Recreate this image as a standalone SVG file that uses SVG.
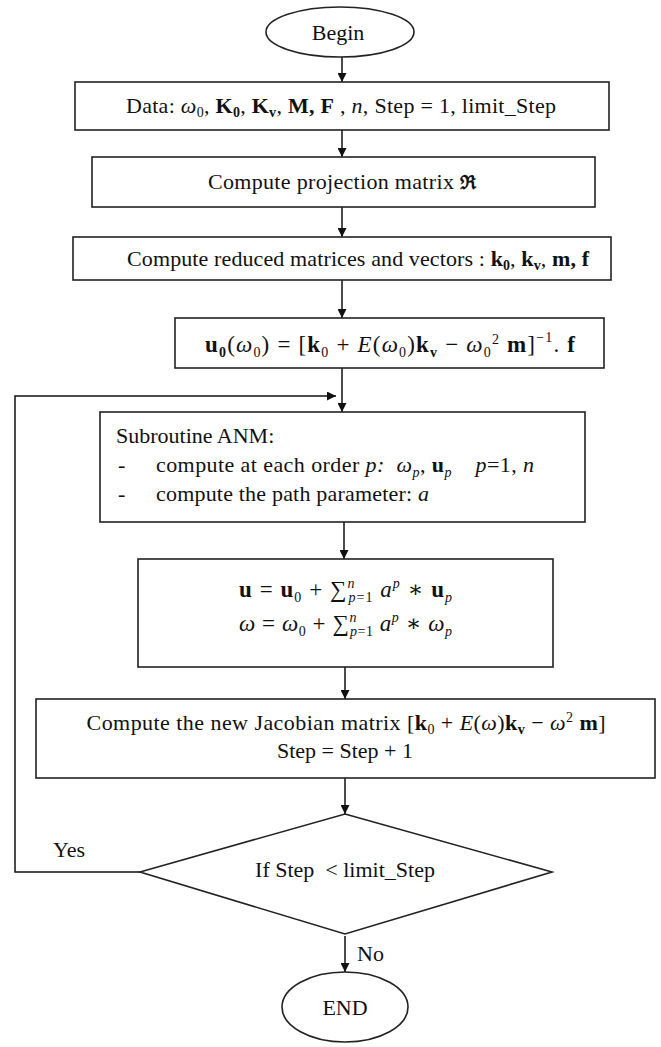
<svg xmlns="http://www.w3.org/2000/svg" width="661" height="1047" viewBox="0 0 661 1047">
  <defs>
    <marker id="arrow" viewBox="0 0 10 10" refX="10" refY="5" markerWidth="9" markerHeight="9" markerUnits="userSpaceOnUse" orient="auto">
      <path d="M0,0 L10,5 L0,10 z" fill="#111"/>
    </marker>
    <style>
      .box { fill: #fff; stroke: #222; stroke-width: 1.6; }
      .wire { fill: none; stroke: #111; stroke-width: 1.5; }
      .t { font-family: "Liberation Serif", "Times New Roman", serif; font-size: 22px; fill: #111; }
      .m { font-family: "Liberation Serif", "DejaVu Serif", serif; font-size: 23px; fill: #111; }
      .b { font-weight: bold; }
      .i { font-style: italic; }
      .s { font-size: 14px; }
    </style>
  </defs>

  <!-- connectors -->
  <g id="connectors">
    <line class="wire" x1="342" y1="57" x2="342" y2="82" marker-end="url(#arrow)"/>
    <line class="wire" x1="342" y1="130" x2="342" y2="157" marker-end="url(#arrow)"/>
    <line class="wire" x1="342" y1="207" x2="342" y2="237" marker-end="url(#arrow)"/>
    <line class="wire" x1="342" y1="280" x2="342" y2="318" marker-end="url(#arrow)"/>
    <line class="wire" x1="342" y1="368" x2="342" y2="412" marker-end="url(#arrow)"/>
    <polyline class="wire" points="140,872 15,872 15,396 336,396" marker-end="url(#arrow)"/>
    <line class="wire" x1="344" y1="522" x2="344" y2="559" marker-end="url(#arrow)"/>
    <line class="wire" x1="345" y1="667" x2="345" y2="699" marker-end="url(#arrow)"/>
    <line class="wire" x1="345" y1="778" x2="345" y2="814" marker-end="url(#arrow)"/>
    <line class="wire" x1="345" y1="936" x2="345" y2="972" marker-end="url(#arrow)"/>
    <text class="t" x="53" y="857">Yes</text>
    <text class="t" x="357" y="961">No</text>
  </g>

  <!-- start -->
  <g id="begin">
    <ellipse class="box" cx="340" cy="32" rx="74" ry="25"/>
    <text class="t" x="338" y="40" text-anchor="middle">Begin</text>
  </g>

  <!-- input data -->
  <g id="data">
    <rect class="box" x="75" y="82" width="534" height="48"/>
    <text class="t" x="341" y="113" text-anchor="middle" textLength="430" lengthAdjust="spacing">Data: <tspan class="i">ω</tspan><tspan class="s" dy="4">0</tspan><tspan dy="-4">, </tspan><tspan class="b">K</tspan><tspan class="b s" dy="4">0</tspan><tspan dy="-4">,  </tspan><tspan class="b">K</tspan><tspan class="b s" dy="4">v</tspan><tspan dy="-4">,  </tspan><tspan class="b">M, F</tspan> , <tspan class="i">n</tspan>, Step = 1, limit_Step</text>
  </g>

  <!-- projection -->
  <g id="projection">
    <rect class="box" x="92" y="157" width="503" height="50"/>
    <text class="t" x="342" y="189" text-anchor="middle" textLength="268" lengthAdjust="spacing">Compute projection matrix <tspan class="b" font-family="DejaVu Serif, serif" font-size="19">ℜ</tspan></text>
  </g>

  <!-- reduced model -->
  <g id="reduced">
    <rect class="box" x="73" y="237" width="538" height="43"/>
    <text class="t" x="358" y="266" text-anchor="middle" textLength="462" lengthAdjust="spacing">Compute reduced matrices and vectors : <tspan class="b">k</tspan><tspan class="b s" dy="4">0</tspan><tspan dy="-4">,  </tspan><tspan class="b">k</tspan><tspan class="b s" dy="4">v</tspan><tspan dy="-4">,  </tspan><tspan class="b">m, f</tspan></text>
  </g>

  <!-- initial solution -->
  <g id="initial">
    <rect class="box" x="175" y="318" width="429" height="50"/>
    <text class="m" x="390" y="352" text-anchor="middle" textLength="370" lengthAdjust="spacing"><tspan class="b">u</tspan><tspan class="b s" dy="5">0</tspan><tspan dy="-5">(</tspan><tspan class="i">ω</tspan><tspan class="s" dy="5">0</tspan><tspan dy="-5">) = [</tspan><tspan class="b">k</tspan><tspan class="s" dy="5">0</tspan><tspan dy="-5"> + </tspan><tspan class="i">E</tspan>(<tspan class="i">ω</tspan><tspan class="s" dy="5">0</tspan><tspan dy="-5">)</tspan><tspan class="b">k</tspan><tspan class="b s" dy="5">v</tspan><tspan dy="-5"> − </tspan><tspan class="i">ω</tspan><tspan class="s" dy="5">0</tspan><tspan class="s" dy="-13">2</tspan><tspan dy="8"> </tspan><tspan class="b">m</tspan>]<tspan class="s" dy="-10">−1</tspan><tspan dy="10">. </tspan><tspan class="b">f</tspan></text>
  </g>

  <!-- ANM subroutine -->
  <g id="anm">
    <rect class="box" x="100" y="412" width="485" height="110"/>
    <text class="t" x="116" y="443">Subroutine ANM:</text>
    <text class="t" x="118" y="472">-</text>
    <text class="t" x="156" y="472" textLength="378" lengthAdjust="spacing" xml:space="preserve">compute at each order <tspan class="i">p:</tspan>  <tspan class="i">ω</tspan><tspan class="i s" dy="5">p</tspan><tspan dy="-5">, </tspan><tspan class="b">u</tspan><tspan class="i s" dy="5">p</tspan><tspan dy="-5">    </tspan><tspan class="i">p</tspan>=1, <tspan class="i">n</tspan></text>
    <text class="t" x="118" y="501">-</text>
    <text class="t" x="156" y="501" textLength="273" lengthAdjust="spacing">compute the path parameter: <tspan class="i">a</tspan></text>
  </g>

  <!-- series update -->
  <g id="series">
    <rect class="box" x="138" y="559" width="415" height="108"/>
    <text class="m" x="239" y="597" textLength="213" lengthAdjust="spacing"><tspan class="b">u</tspan> = <tspan class="b">u</tspan><tspan class="s" dy="5">0</tspan><tspan dy="-5"> + ∑</tspan><tspan class="i s" dy="-9">n</tspan><tspan class="s" dx="-7" dy="14"><tspan class="i">p</tspan>=1</tspan><tspan class="i" dy="-5"> a</tspan><tspan class="i s" dy="-9">p</tspan><tspan dy="9"> ∗ </tspan><tspan class="b">u</tspan><tspan class="i s" dy="5">p</tspan></text>
    <text class="m" x="239" y="631" textLength="213" lengthAdjust="spacing"><tspan class="i">ω</tspan> = <tspan class="i">ω</tspan><tspan class="s" dy="5">0</tspan><tspan dy="-5"> + ∑</tspan><tspan class="i s" dy="-9">n</tspan><tspan class="s" dx="-7" dy="14"><tspan class="i">p</tspan>=1</tspan><tspan class="i" dy="-5"> a</tspan><tspan class="i s" dy="-9">p</tspan><tspan dy="9"> ∗ </tspan><tspan class="i">ω</tspan><tspan class="i s" dy="5">p</tspan></text>
  </g>

  <!-- Jacobian update -->
  <g id="jacobian">
    <rect class="box" x="36" y="699" width="619" height="79"/>
    <text class="t" x="346" y="730" text-anchor="middle" textLength="519" lengthAdjust="spacing">Compute the new Jacobian matrix [<tspan class="b">k</tspan><tspan class="s" dy="4">0</tspan><tspan dy="-4"> + </tspan><tspan class="i">E</tspan>(<tspan class="i">ω</tspan>)<tspan class="b">k</tspan><tspan class="b s" dy="4">v</tspan><tspan dy="-4"> − </tspan><tspan class="i">ω</tspan><tspan class="s" dy="-8">2</tspan><tspan dy="8"> </tspan><tspan class="b">m</tspan>]</text>
    <text class="t" x="345" y="758" text-anchor="middle">Step = Step + 1</text>
  </g>

  <!-- loop test -->
  <g id="decision">
    <polygon class="box" points="345,814 552,872 345,934 140,872"/>
    <text class="t" x="345" y="877" text-anchor="middle" xml:space="preserve">If Step  &lt; limit_Step</text>
  </g>

  <!-- stop -->
  <g id="end">
    <ellipse class="box" cx="345" cy="1007" rx="63" ry="35"/>
    <text class="t" x="345" y="1015" text-anchor="middle">END</text>
  </g>
</svg>
